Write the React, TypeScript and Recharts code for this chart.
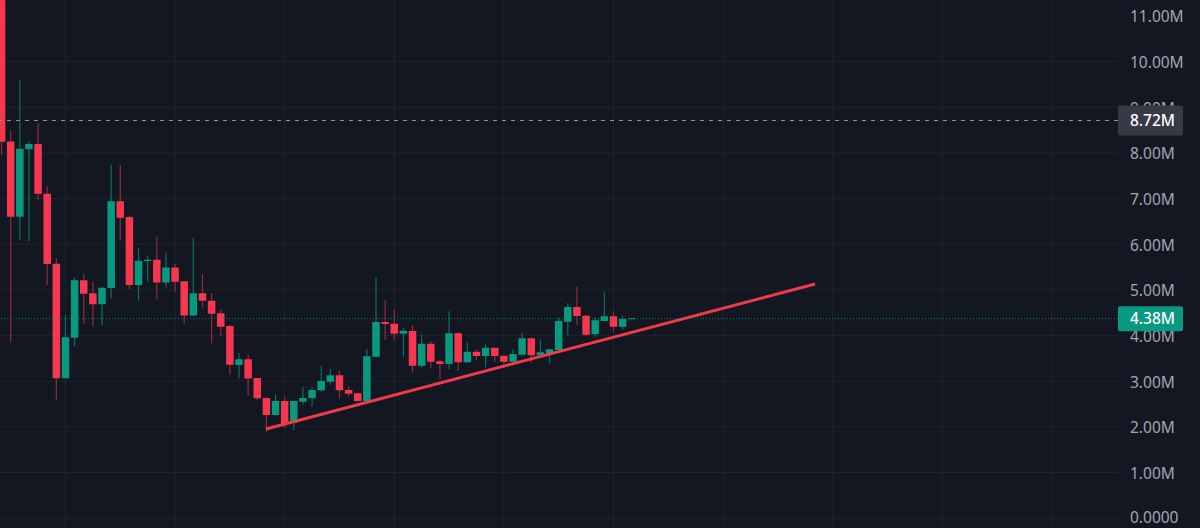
import { Bar, CartesianGrid, ComposedChart, Line, ReferenceLine, XAxis, YAxis } from 'recharts'

const BG = '#131722'
const GRID = '#1f232e'
const UP = '#089981'
const DOWN = '#f7374f'
const UP_WICK = '#0c6f61'
const DOWN_WICK = '#96293b'
const AXIS_TEXT = '#a3a6ae'
const FONT = '"Noto Sans", sans-serif'
const PLOT_RIGHT = 1118
const LABEL_X = 1130
const BODY_WIDTH = 7.5

// prices are in millions
const opens = [12.5, 8.25, 6.6, 8.079, 8.196, 7.108, 5.575, 3.064, 3.954, 5.21, 4.925, 4.684, 5.04, 6.94, 6.597, 5.108, 5.634, 5.66, 5.16, 5.49, 5.19, 4.44, 4.925, 4.765, 4.487, 4.21, 3.356, 3.48, 3.07, 2.633, 2.261, 2.567, 2.086, 2.553, 2.626, 2.8, 2.99, 3.13, 2.808, 2.735, 2.56, 3.538, 4.297, 4.26, 4.042, 4.1, 3.341, 3.823, 3.436, 3.378, 4.049, 3.414, 3.648, 3.553, 3.735, 3.56, 3.429, 3.582, 3.94, 3.567, 3.611, 3.684, 4.305, 4.626, 4.436, 4.027, 4.319, 4.421, 4.195, 4.356]
const closes = [8.247, 6.6, 8.09, 8.196, 7.108, 5.568, 3.064, 3.962, 5.21, 4.918, 4.684, 5.049, 6.94, 6.58, 5.108, 5.64, 5.66, 5.16, 5.49, 5.18, 4.44, 4.925, 4.765, 4.48, 4.195, 3.363, 3.48, 3.057, 2.626, 2.261, 2.567, 2.064, 2.567, 2.633, 2.808, 3.005, 3.13, 2.8, 2.728, 2.567, 3.545, 4.297, 4.254, 4.042, 4.108, 3.341, 3.823, 3.429, 3.378, 4.049, 3.414, 3.648, 3.553, 3.735, 3.553, 3.429, 3.597, 3.94, 3.567, 3.633, 3.699, 4.319, 4.626, 4.429, 4.02, 4.334, 4.421, 4.195, 4.363, 4.378]
const highs = [12.5, 8.48, 9.6, 8.254, 8.648, 7.268, 5.69, 4.45, 5.276, 5.349, 5.173, 5.07, 7.743, 7.73, 6.63, 5.925, 5.735, 6.17, 5.82, 5.575, 5.19, 6.137, 5.349, 4.925, 4.575, 4.232, 3.618, 3.58, 3.07, 2.655, 2.72, 2.655, 2.567, 2.874, 2.874, 3.334, 3.268, 3.232, 2.896, 2.743, 3.706, 5.275, 4.772, 4.575, 4.173, 4.232, 4.027, 3.881, 3.48, 4.53, 4.071, 3.859, 3.699, 3.808, 3.735, 3.56, 3.706, 4.049, 3.955, 3.918, 3.699, 4.378, 4.706, 5.071, 4.45, 4.4, 4.962, 4.538, 4.436, 4.378]
const lows = [7.955, 3.84, 6.09, 6.07, 6.96, 5.108, 2.575, 3.06, 3.757, 4.254, 4.195, 4.217, 4.81, 6.09, 5.02, 4.765, 5.18, 4.79, 5.056, 4.954, 4.254, 4.43, 4.62, 3.83, 3.998, 3.144, 3.057, 2.684, 2.575, 1.874, 2.25, 1.984, 1.93, 2.48, 2.443, 2.772, 2.925, 2.619, 2.677, 2.56, 2.538, 3.538, 3.903, 3.903, 3.538, 3.188, 3.305, 3.283, 3.042, 3.268, 3.232, 3.41, 3.465, 3.305, 3.421, 3.348, 3.429, 3.582, 3.407, 3.524, 3.392, 3.684, 4.005, 4.232, 3.99, 3.976, 4.319, 4.1, 4.122, 4.356]

const priceTicks = [0, 1, 2, 3, 4, 5, 6, 7, 8, 9, 10, 11]
const priceLabels = ['0.0000', '1.00M', '2.00M', '3.00M', '4.00M', '5.00M', '6.00M', '7.00M', '8.00M', '9.00M', '10.00M', '11.00M']
const timeGrid = [7, 19, 31, 43, 55, 67, 79, 91, 103, 115]

const trendIndex = [28.95, 89.07]
const trendValues = [1.954, 5.13]
const lastHigh = 8.71
const lastPrice = 4.37

const candles = opens.map((open, i) => ({
  i,
  open,
  close: closes[i],
  high: highs[i],
  low: lows[i],
  range: [lows[i], highs[i]],
}))
const trendData = trendIndex.map((i, n) => ({ i, trend: trendValues[n] }))

function Candle(props: any) {
  const { x, y, width, height, payload } = props
  if (!payload) return null
  const up = payload.close >= payload.open
  const perUnit = Math.abs(height) / (payload.high - payload.low)
  const top = Math.min(y, y + height)
  const bodyTop = top + (payload.high - Math.max(payload.open, payload.close)) * perUnit
  const bodyH = Math.max(Math.abs(payload.open - payload.close) * perUnit, 1)
  const mid = x + width / 2
  return (
    <g>
      <line x1={mid} x2={mid} y1={top} y2={top + Math.abs(height)} stroke={up ? UP_WICK : DOWN_WICK} strokeWidth={1.2} />
      <rect x={mid - BODY_WIDTH / 2} y={bodyTop} width={BODY_WIDTH} height={bodyH} rx={0.5} fill={up ? UP : DOWN} />
    </g>
  )
}

function PriceTick({ y, payload }: any) {
  // the bottom label sits a touch higher so it stays inside the frame
  const dy = payload.value === 0 ? 5 : 6.5
  return (
    <text x={LABEL_X} y={y + dy} fill={AXIS_TEXT} fontSize={15.5} fontFamily={FONT} textAnchor="start">
      {priceLabels[priceTicks.indexOf(payload.value)]}
    </text>
  )
}

// price badges sit on their own axis so they cover the normal tick labels
function BadgeTick({ y, payload }: any) {
  const isLast = payload.value === lastPrice
  const h = isLast ? 25 : 30
  return (
    <g>
      <rect x={PLOT_RIGHT} y={y - h / 2} width={65} height={h} rx={2} fill={isLast ? UP : '#363a45'} />
      <text x={LABEL_X} y={y + 5.5} fill="#ffffff" fontSize={15.5} fontWeight={500} fontFamily={FONT} textAnchor="start">
        {isLast ? '4.38M' : '8.72M'}
      </text>
    </g>
  )
}

export default function App() {
  return (
    <div style={{ position: 'fixed', left: 0, top: 0, width: 1200, height: 528, background: BG }}>
      <ComposedChart width={1200} height={528} data={candles} margin={{ top: 0, right: 0, bottom: 0, left: 0 }}>
        <XAxis dataKey="i" type="number" domain={[-0.172, 122.24]} allowDataOverflow hide />
        <YAxis
          orientation="right"
          width={82}
          domain={[-0.215, 11.35]}
          allowDataOverflow
          ticks={priceTicks}
          tick={<PriceTick />}
          axisLine={false}
          tickLine={false}
          interval={0}
        />
        <YAxis
          yAxisId="badges"
          orientation="right"
          mirror
          width={1}
          domain={[-0.215, 11.35]}
          allowDataOverflow
          ticks={[lastHigh, lastPrice]}
          tick={<BadgeTick />}
          axisLine={false}
          tickLine={false}
          interval={0}
        />
        <CartesianGrid stroke={GRID} horizontalValues={priceTicks} verticalValues={timeGrid} />
        <Bar dataKey="range" barSize={7} shape={<Candle />} isAnimationActive={false} />
        <Line
          data={trendData}
          dataKey="trend"
          stroke="#f23a4c"
          strokeWidth={3}
          dot={false}
          activeDot={false}
          isAnimationActive={false}
        />
        <ReferenceLine y={lastHigh} stroke="#8f929a" strokeDasharray="4 5" />
        <ReferenceLine y={lastPrice} stroke={UP} strokeOpacity={0.75} strokeDasharray="1 2" />
      </ComposedChart>
    </div>
  )
}
